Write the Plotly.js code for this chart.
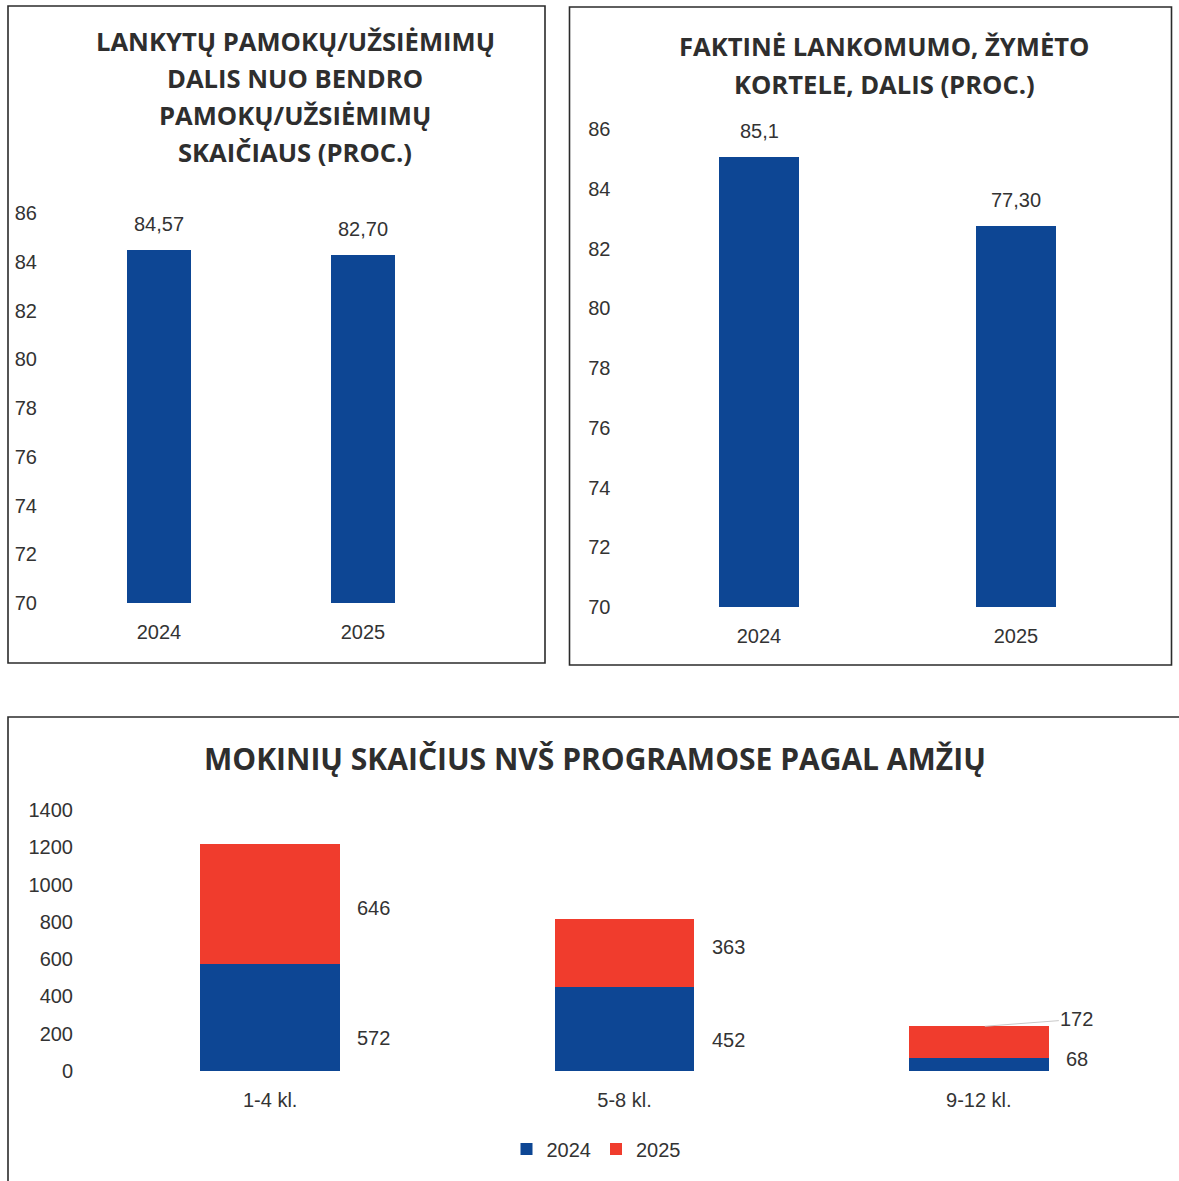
<!DOCTYPE html>
<html>
<head>
<meta charset="utf-8">
<script src="https://cdn.plot.ly/plotly-3.0.1.min.js"></script>
<style>html,body{margin:0;padding:0;background:#fff;}#chart{width:1179px;height:1181px;}</style>
</head>
<body>
<div id="chart"></div>
<script>
// ---- Data ----
const years = ["2024", "2025"];
// Chart 1: share of attended lessons (bar heights as drawn, labels as printed)
const attendedBars = [84.48, 84.28];
const attendedLabels = ["84,57", "82,70"];
// Chart 2: actual attendance registered by card (bar heights as drawn, labels as printed)
const cardBars = [85.06, 82.75];
const cardLabels = ["85,1", "77,30"];
// Chart 3: students in NVŠ programmes by age group
const grades = ["1-4 kl.", "5-8 kl.", "9-12 kl."];
const students2024 = [572, 452, 68];
const students2025 = [646, 363, 172];

const title1 = ["LANKYTŲ PAMOKŲ/UŽSIĖMIMŲ", "DALIS NUO BENDRO", "PAMOKŲ/UŽSIĖMIMŲ", "SKAIČIAUS (PROC.)"];
const title2 = ["FAKTINĖ LANKOMUMO, ŽYMĖTO", "KORTELE, DALIS (PROC.)"];
const title3 = "MOKINIŲ SKAIČIUS NVŠ PROGRAMOSE PAGAL AMŽIŲ";

// ---- Layout helpers (pixel -> paper) ----
const W = 1179, H = 1181;
const px = x => x / W;
const py = y => 1 - y / H;

const BLUE = "#0d4694";
const RED = "#f03c2d";
const TXT = "#333333";
const SANS = "Liberation Sans, Arial, sans-serif";
const TITLEF = "Open Sans, sans-serif";

const traces = [
  {type: "bar", x: years, y: attendedBars, xaxis: "x", yaxis: "y", width: 0.31,
   marker: {color: BLUE}, showlegend: false, hoverinfo: "none"},
  {type: "bar", x: years, y: cardBars, xaxis: "x2", yaxis: "y2", width: 0.31,
   marker: {color: BLUE}, showlegend: false, hoverinfo: "none"},
  {type: "bar", name: "2024", x: grades, y: students2024, xaxis: "x3", yaxis: "y3", width: 0.395,
   marker: {color: BLUE}, hoverinfo: "none"},
  {type: "bar", name: "2025", x: grades, y: students2025, xaxis: "x3", yaxis: "y3", width: 0.395,
   marker: {color: RED}, hoverinfo: "none"}
];

const tickFont = {family: SANS, size: 20, color: TXT};
function yAx(dom, range, dtick, anchor) {
  return {domain: dom, range: range, dtick: dtick, tick0: 0, anchor: anchor,
    showgrid: false, zeroline: false, showline: false, ticks: "",
    tickfont: tickFont, ticklabelstandoff: 19, fixedrange: true};
}
function xAx(dom, range, anchor) {
  return {domain: dom, range: range, type: "category", anchor: anchor,
    showgrid: false, zeroline: false, showline: false, ticks: "",
    tickfont: tickFont, ticklabelstandoff: 15, fixedrange: true};
}

const annotations = [];
const titleFont1 = {family: TITLEF, size: 25.6, color: "#2e2e2e", weight: "bold"};
// Titles
title1.forEach((t, i) => annotations.push({text: t, xref: "paper", yref: "paper",
  x: px(295), y: py(42 + i * 36.7), xanchor: "center", yanchor: "middle", showarrow: false,
  font: titleFont1}));
title2.forEach((t, i) => annotations.push({text: t, xref: "paper", yref: "paper",
  x: px(884), y: py(47 + i * 37), xanchor: "center", yanchor: "middle", showarrow: false,
  font: titleFont1}));
annotations.push({text: title3, xref: "paper", yref: "paper",
  x: px(595), y: py(758), xanchor: "center", yanchor: "middle", showarrow: false,
  font: {family: TITLEF, size: 30, color: "#2e2e2e", weight: "bold"}});

// Value labels on top charts (x given as category index)
years.forEach((yr, i) => {
  annotations.push({text: attendedLabels[i], x: i, y: attendedBars[i], xref: "x", yref: "y",
    yanchor: "middle", yshift: 26, showarrow: false, font: tickFont});
  annotations.push({text: cardLabels[i], x: i, y: cardBars[i], xref: "x2", yref: "y2",
    yanchor: "middle", yshift: 26, showarrow: false, font: tickFont});
});
// Value labels on stacked chart
const lowShift = [-20, -11, 6];
const topShift = [-4, 6, 0];
grades.forEach((g, i) => {
  const a = students2024[i], b = students2025[i];
  annotations.push({text: String(a), x: i, y: a / 2, xref: "x3", yref: "y3",
    xanchor: "left", yanchor: "middle", xshift: 85, yshift: lowShift[i], showarrow: false, font: tickFont});
  if (i < 2) {
    annotations.push({text: String(b), x: i, y: a + b / 2, xref: "x3", yref: "y3",
      xanchor: "left", yanchor: "middle", xshift: 85, yshift: topShift[i], showarrow: false, font: tickFont});
  } else {
    annotations.push({text: String(b), x: i, y: a + b, xref: "x3", yref: "y3",
      xshift: 6, ax: 92, ay: -7, showarrow: true, arrowhead: 0, arrowwidth: 1,
      arrowcolor: "#c8c8c8", font: tickFont});
  }
});

const lineC = "#2b2b2b";
const shapes = [
  {type: "rect", xref: "paper", yref: "paper", x0: px(8), x1: px(545), y0: py(663), y1: py(6),
   line: {color: lineC, width: 1.6}},
  {type: "rect", xref: "paper", yref: "paper", x0: px(569.5), x1: px(1171.5), y0: py(665), y1: py(7),
   line: {color: lineC, width: 1.6}},
  {type: "path", xref: "paper", yref: "paper",
   path: `M ${px(8)} ${py(1185)} L ${px(8)} ${py(717)} L ${px(1185)} ${py(717)}`,
   line: {color: lineC, width: 1.6}}
];

const layout = {
  width: W, height: H,
  margin: {l: 0, r: 0, t: 0, b: 0},
  paper_bgcolor: "#ffffff", plot_bgcolor: "rgba(0,0,0,0)",
  barmode: "stack",
  font: {family: SANS, color: TXT},
  xaxis: xAx([px(57), px(465)], [-0.5, 1.5], "y"),
  yaxis: yAx([py(603), py(213)], [70, 86], 2, "x"),
  xaxis2: xAx([px(630.5), px(1144.5)], [-0.5, 1.5], "y2"),
  yaxis2: yAx([py(607), py(129)], [70, 86], 2, "x2"),
  xaxis3: xAx([px(93), px(1156)], [-0.5, 2.5], "y3"),
  yaxis3: yAx([py(1071), py(810)], [0, 1400], 200, "x3"),
  showlegend: true,
  legend: {orientation: "h", x: px(596), xanchor: "center", y: py(1149), yanchor: "middle",
    traceorder: "normal", font: {family: SANS, size: 20, color: TXT}, itemwidth: 30},
  annotations: annotations,
  shapes: shapes
};

Plotly.newPlot("chart", traces, layout, {staticPlot: true, displayModeBar: false});
</script>
</body>
</html>
